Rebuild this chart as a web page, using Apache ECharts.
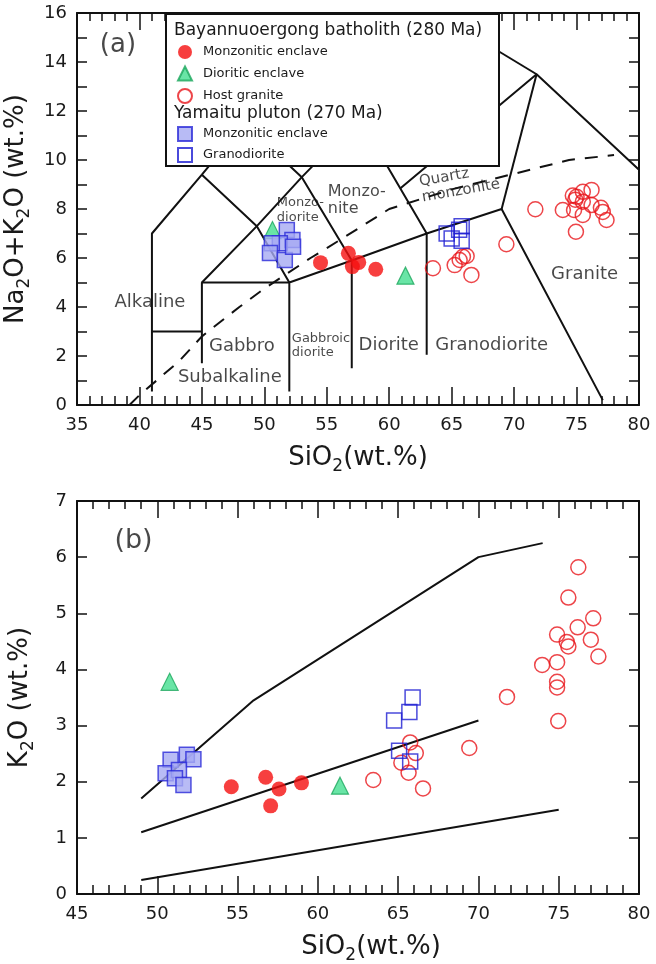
<!DOCTYPE html>
<html>
<head>
<meta charset="utf-8">
<script src="https://cdn.jsdelivr.net/npm/echarts@6/dist/echarts.min.js"></script>
<style>
  html, body { margin: 0; padding: 0; background: #fff; }
  #chart { width: 656px; height: 964px; }
</style>
</head>
<body>
<div id="chart"></div>
<script>
// ---- panel (a): Na2O+K2O vs SiO2 ----
const monzEnclaveA = [[54.5, 5.81], [56.73, 6.19], [57.05, 5.65], [57.56, 5.82], [58.92, 5.54]];
const diorEnclaveA = [[50.65, 7.14], [61.3, 5.28]];
const hostGraniteA = [
  [63.5, 5.58], [65.24, 5.71], [65.64, 5.92], [65.9, 6.05], [66.2, 6.08], [66.58, 5.31],
  [69.38, 6.56], [71.7, 7.99], [73.9, 7.96], [74.95, 7.07], [74.7, 8.55], [74.9, 8.38],
  [75.5, 8.7], [76.2, 8.78], [75.5, 8.3], [76.2, 8.16], [75.5, 7.76], [74.8, 7.96],
  [76.95, 8.05], [77.1, 7.88], [77.4, 7.55], [75.0, 8.5]
];
const yamMonzA = [[51.8, 7.14], [52.25, 6.73], [51.24, 6.6], [50.6, 6.6], [50.45, 6.2], [51.64, 5.92], [52.3, 6.46]];
const granodioriteA = [[64.6, 7.0], [65.8, 7.3], [65.0, 6.8], [65.8, 6.7], [65.6, 7.15]];

// TAS field boundaries (SiO2, Na2O+K2O)
const fieldLines = [
  [[41, 0.55], [41, 7], [45, 9.4], [48.4, 11.5]],
  [[41, 3], [45, 3]],
  [[45, 1.7], [45, 5], [52, 5]],
  [[52, 0.55], [52, 5], [57, 5.9], [63, 7], [69, 8], [77.1, 0.2]],
  [[57, 1.5], [57, 5.9]],
  [[63, 2.05], [63, 7]],
  [[45, 5], [49.4, 7.3], [53, 9.3], [57.6, 11.7]],
  [[45, 9.4], [49.4, 7.3], [52, 5]],
  [[48.4, 11.5], [53, 9.3], [57, 5.9]],
  [[52.5, 14], [57.6, 11.7], [63, 7]],
  [[60.9, 8.85], [71.8, 13.5], [80, 9.6]],
  [[69, 8], [71.8, 13.5]],
  [[63.7, 16], [71.8, 13.5]]
];
// alkaline / subalkaline divide
const alkalineLine = [[39.2, 0], [40, 0.4], [43.2, 1.8], [45, 2.8], [48, 4], [50, 4.75], [53.7, 6],
  [55, 6.4], [60, 8], [65, 8.8], [74.4, 10], [78, 10.2]];

const fieldNames = ['(a)', 'Alkaline', 'Gabbro', 'Subalkaline', 'Gabbroic\ndiorite', 'Diorite', 'Granodiorite',
  'Granite', 'Monzo-\nnite', 'Monzo-\ndiorite', 'Quartz\nmonzonite'];
const fieldPos = [[38.28, 14.69], [40.84, 4.2], [48.2, 2.41], [47.24, 1.14], [52.2, 2.41], [59.96, 2.45], [68.2, 2.45],
  [75.64, 5.35], [55.08, 8.37], [51.0, 7.96], [62.52, 8.78]];

// ---- panel (b): K2O vs SiO2 ----
const monzEnclaveB = [[54.61, 1.91], [56.75, 2.08], [57.06, 1.57], [57.58, 1.87], [58.98, 1.98]];
const diorEnclaveB = [[50.77, 3.78], [61.38, 1.93]];
const hostGraniteB = [
  [63.45, 2.03], [65.75, 2.7], [66.1, 2.51], [65.2, 2.34], [65.65, 2.16], [66.55, 1.88],
  [69.43, 2.6], [71.78, 3.51], [76.22, 5.82], [75.6, 5.28], [77.15, 4.91], [76.18, 4.75],
  [74.9, 4.62], [77.0, 4.53], [75.5, 4.49], [75.6, 4.41], [77.47, 4.23], [73.97, 4.08],
  [74.9, 4.13], [74.9, 3.78], [74.9, 3.68], [74.97, 3.08]
];
const yamMonzB = [[50.83, 2.39], [51.84, 2.48], [52.25, 2.4], [50.52, 2.15], [51.35, 2.21], [51.1, 2.06], [51.63, 1.94]];
const granodioriteB = [[65.9, 3.5], [65.7, 3.24], [64.75, 3.09], [65.06, 2.55], [65.75, 2.36]];

const kLineHigh = [[49, 1.7], [56, 3.45], [70, 6.0], [74, 6.25]];
const kLineMid = [[49, 1.1], [70, 3.09]];
const kLineLow = [[49, 0.25], [75, 1.5]];

const FONT = 'DejaVu Sans';
const legendText = {
  'Monzonitic enclave': 'Monzonitic enclave',
  'Dioritic enclave': 'Dioritic enclave',
  'Host granite': 'Host granite',
  'Yamaitu monzonitic enclave': 'Monzonitic enclave',
  'Granodiorite': 'Granodiorite'
};

const chart = echarts.init(document.getElementById('chart'), null, { renderer: 'canvas' });

const styles = {
  'Monzonitic enclave': { symbol: 'circle', symbolSize: 15, itemStyle: { color: '#f50f0f' } },
  'Dioritic enclave': { symbol: 'triangle', symbolSize: 17, itemStyle: { color: '#44df90', borderColor: '#1ca65c', borderWidth: 1.2 } },
  'Host granite': { symbol: 'circle', symbolSize: 15, itemStyle: { color: 'rgba(255,255,255,0)', borderColor: '#e8161b', borderWidth: 1.5 } },
  'Yamaitu monzonitic enclave': { symbol: 'rect', symbolSize: 15, itemStyle: { color: '#a6aaf2', borderColor: '#2a2ad8', borderWidth: 1.5 } },
  'Granodiorite': { symbol: 'rect', symbolSize: 15, itemStyle: { color: 'rgba(255,255,255,0)', borderColor: '#1d1dd2', borderWidth: 1.5 } }
};

function scatter(name, data, panel) {
  const s = styles[name];
  return {
    type: 'scatter', name: name, data: data,
    xAxisIndex: panel * 2, yAxisIndex: panel * 2,
    symbol: s.symbol, symbolSize: s.symbolSize, itemStyle: s.itemStyle,
    z: 5, silent: true
  };
}
function polyline(data, panel, dashed) {
  return {
    type: 'line', data: data, xAxisIndex: panel * 2, yAxisIndex: panel * 2,
    symbol: 'none', silent: true, z: 3,
    lineStyle: { color: '#111', width: 2, type: dashed ? [13, 10] : 'solid' }
  };
}

const series = [];
fieldLines.forEach(seg => series.push(polyline(seg, 0, false)));
series.push(polyline(alkalineLine, 0, true));
[kLineHigh, kLineMid, kLineLow].forEach(seg => series.push(polyline(seg, 1, false)));

// order so that overlapping markers stack like the reference
series.push(scatter('Host granite', hostGraniteA, 0));
series.push(scatter('Granodiorite', granodioriteA, 0));
series.push(scatter('Dioritic enclave', diorEnclaveA, 0));
series.push(scatter('Monzonitic enclave', monzEnclaveA, 0));
series.push(scatter('Yamaitu monzonitic enclave', yamMonzA, 0));
series.push(scatter('Host granite', hostGraniteB, 1));
series.push(scatter('Granodiorite', granodioriteB, 1));
series.push(scatter('Dioritic enclave', diorEnclaveB, 1));
series.push(scatter('Monzonitic enclave', monzEnclaveB, 1));
series.push(scatter('Yamaitu monzonitic enclave', yamMonzB, 1));

// field names
const labelStyle = {
  '(a)': { fontSize: 26 },
  'Gabbroic\ndiorite': { fontSize: 13, align: 'left', lineHeight: 14 },
  'Monzo-\nnite': { fontSize: 16, align: 'left', lineHeight: 17 },
  'Monzo-\ndiorite': { fontSize: 13, align: 'left', lineHeight: 15 },
  'Quartz\nmonzonite': { fontSize: 15, align: 'left', lineHeight: 16, rotate: 10 }
};
series.push({
  type: 'scatter', xAxisIndex: 0, yAxisIndex: 0, symbolSize: 0, silent: true, z: 6,
  data: fieldNames.map((n, i) => ({
    value: fieldPos[i],
    label: Object.assign({ show: true, position: 'inside', formatter: n, color: '#1a1a1a',
      fontFamily: FONT, fontSize: 18, align: 'center', verticalAlign: 'middle' }, labelStyle[n] || {})
  }))
});
series.push({
  type: 'scatter', xAxisIndex: 2, yAxisIndex: 2, symbolSize: 0, silent: true, z: 6,
  data: [{ value: [48.52, 6.28], label: { show: true, position: 'inside', formatter: '(b)', color: '#1a1a1a', fontFamily: FONT, fontSize: 27 } }]
});

const rich = {
  n: { fontFamily: FONT, fontSize: 26, color: '#1a1a1a', verticalAlign: 'bottom', padding: [0, 0, 4, 0] },
  s: { fontFamily: FONT, fontSize: 17, color: '#1a1a1a', verticalAlign: 'bottom' }
};
const axisLine = { show: true, onZero: false, lineStyle: { color: '#111', width: 2 } };
const tickStyle = { color: '#111', width: 1.5 };

function xAxes(grid, min, max, nameGap, namePad) {
  return [{
    gridIndex: grid, type: 'value', min: min, max: max, interval: 5, position: 'bottom',
    axisLine: axisLine,
    axisTick: { show: true, inside: true, length: 18, lineStyle: tickStyle },
    minorTick: { show: true, splitNumber: 5, length: 9, lineStyle: tickStyle },
    axisLabel: { fontFamily: FONT, fontSize: 18, color: '#1a1a1a', margin: 11 },
    splitLine: { show: false }, minorSplitLine: { show: false },
    name: '{n|SiO}{s|2}{n|(wt.%)}', nameLocation: 'middle', nameGap: nameGap,
    nameTextStyle: { rich: rich, padding: namePad }
  }, {
    gridIndex: grid, type: 'value', min: min, max: max, interval: 5, position: 'top',
    axisLine: axisLine,
    axisTick: { show: true, inside: true, length: 17, lineStyle: tickStyle },
    minorTick: { show: true, splitNumber: 5, length: 8, lineStyle: tickStyle },
    axisLabel: { show: false }, splitLine: { show: false }, minorSplitLine: { show: false }
  }];
}
function yAxes(grid, max, everyOther, name) {
  return [{
    gridIndex: grid, type: 'value', min: 0, max: max, interval: 1, position: 'left',
    axisLine: axisLine,
    axisTick: { show: true, inside: true, length: 10, lineStyle: tickStyle },
    axisLabel: { fontFamily: FONT, fontSize: 18, color: '#1a1a1a', margin: 10,
      formatter: v => (everyOther && v % 2 !== 0) ? '' : String(v) },
    splitLine: { show: false },
    name: name, nameLocation: 'middle', nameGap: 40, nameTextStyle: { rich: rich }
  }, {
    gridIndex: grid, type: 'value', min: 0, max: max, interval: 1, position: 'right',
    axisLine: axisLine,
    axisTick: { show: true, inside: true, length: 10, lineStyle: tickStyle },
    axisLabel: { show: false }, splitLine: { show: false }
  }];
}

const legendCommon = {
  orient: 'vertical', left: 177, itemWidth: 14, itemHeight: 14, padding: 0, z: 120,
  selectedMode: false,
  textStyle: { fontFamily: FONT, fontSize: 13, color: '#1a1a1a', padding: [0, 0, 0, 6] },
  formatter: n => legendText[n] || n
};

chart.setOption({
  animation: false,
  backgroundColor: '#fff',
  grid: [
    { left: 77, right: 17, top: 13, height: 392, outerBoundsMode: 'none' },
    { left: 77, right: 17, top: 501, height: 393, outerBoundsMode: 'none' }
  ],
  xAxis: [...xAxes(0, 35, 80, 40, [0, 0, 0, 0]), ...xAxes(1, 45, 80, 40, [0, 0, 0, 26])],
  yAxis: [
    ...yAxes(0, 16, true, '{n|Na}{s|2}{n|O+K}{s|2}{n|O (wt.%)}'),
    ...yAxes(1, 7, false, '{n|K}{s|2}{n|O (wt.%)}')
  ],
  legend: [
    Object.assign({}, legendCommon, { top: 45, itemGap: 6.5, data: ['Monzonitic enclave', 'Dioritic enclave', 'Host granite'] }),
    Object.assign({}, legendCommon, { top: 126, itemGap: 5, data: ['Yamaitu monzonitic enclave', 'Granodiorite'] })
  ],
  graphic: [
    { type: 'rect', left: 165, top: 13, z: 100, shape: { width: 333, height: 152 },
      style: { fill: '#fff', stroke: '#111', lineWidth: 2 } },
    { type: 'text', left: 174, top: 22, z: 101,
      style: { text: 'Bayannuoergong batholith (280 Ma)', fontFamily: FONT, fontSize: 17, fill: '#1a1a1a' } },
    { type: 'text', left: 174, top: 105, z: 101,
      style: { text: 'Yamaitu pluton (270 Ma)', fontFamily: FONT, fontSize: 17, fill: '#1a1a1a' } }
  ],
  series: series
});
</script>
</body>
</html>
